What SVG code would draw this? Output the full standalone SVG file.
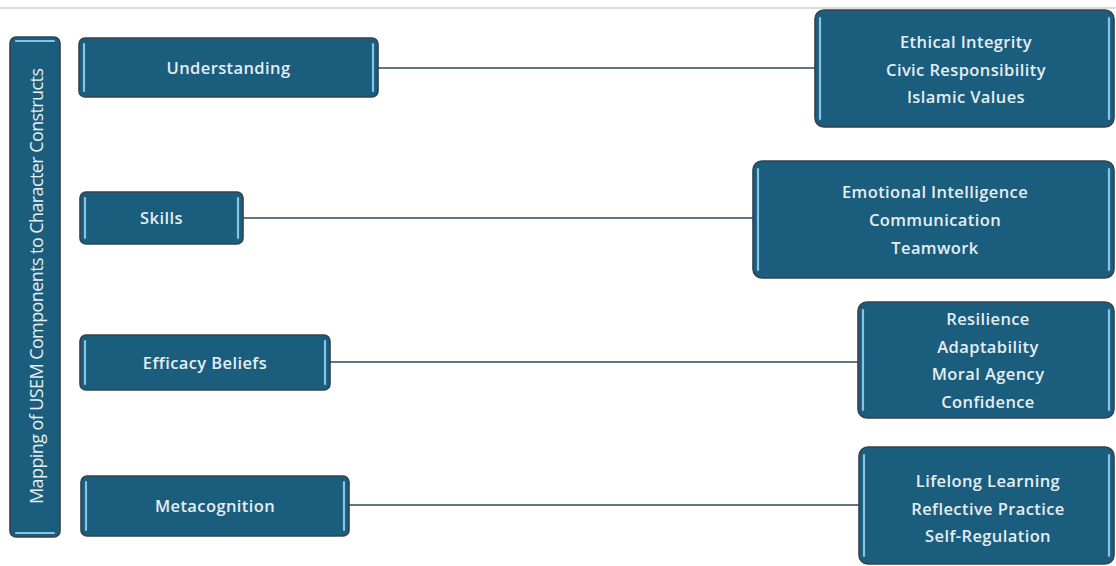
<svg xmlns="http://www.w3.org/2000/svg" width="1116" height="566" viewBox="0 0 1116 566">
<defs>
<style>
.box{fill:#1b5d7d;stroke:#34434d;stroke-width:1.6}
.hl{stroke:#86c3e6;stroke-width:2.2;stroke-linecap:round;fill:none}
.t{font-family:"Open Sans","Liberation Sans",sans-serif;font-size:16.5px;font-weight:600;fill:#e4eef3;text-anchor:middle;dominant-baseline:central;letter-spacing:0.4px}
.c{stroke:#2c4858;stroke-width:1.5;fill:none}
</style>
</defs>
<rect width="1116" height="566" fill="#ffffff"/>
<line x1="0" y1="8" x2="1116" y2="8" stroke="#cfcfcf" stroke-width="1.5"/>
<g id="connectors">
<line class="c" x1="378" y1="68" x2="815" y2="68"/>
<line class="c" x1="243" y1="218" x2="753" y2="218"/>
<line class="c" x1="330" y1="362" x2="858" y2="362"/>
<line class="c" x1="349" y1="505" x2="859" y2="505"/>
</g>
<g id="title">
<rect class="box" x="10" y="37" width="50" height="500" rx="6"/>
<line class="hl" x1="16" y1="41" x2="54" y2="41"/>
<line class="hl" x1="16" y1="533" x2="54" y2="533"/>
<text class="t" transform="translate(36,286) rotate(-90)" textLength="436" lengthAdjust="spacing" style="letter-spacing:0;font-size:18px;font-weight:normal">Mapping of USEM Components to Character Constructs</text>
</g>
<g id="n-understanding">
<rect class="box" x="79" y="38" width="299" height="59" rx="6"/>
<line class="hl" x1="84" y1="44" x2="84" y2="91"/>
<line class="hl" x1="373" y1="44" x2="373" y2="91"/>
<text class="t" x="228.5" y="67">Understanding</text>
</g>
<g id="n-skills">
<rect class="box" x="80" y="192" width="163" height="52" rx="6"/>
<line class="hl" x1="85" y1="198" x2="85" y2="238"/>
<line class="hl" x1="238" y1="198" x2="238" y2="238"/>
<text class="t" x="161.5" y="217">Skills</text>
</g>
<g id="n-efficacy">
<rect class="box" x="80" y="335" width="250" height="55" rx="6"/>
<line class="hl" x1="85" y1="341" x2="85" y2="384"/>
<line class="hl" x1="325" y1="341" x2="325" y2="384"/>
<text class="t" x="205" y="362">Efficacy Beliefs</text>
</g>
<g id="n-metacognition">
<rect class="box" x="81" y="476" width="268" height="60" rx="6"/>
<line class="hl" x1="86" y1="482" x2="86" y2="530"/>
<line class="hl" x1="344" y1="482" x2="344" y2="530"/>
<text class="t" x="215" y="505">Metacognition</text>
</g>
<g id="r-understanding">
<rect class="box" x="815" y="10" width="299" height="117" rx="9"/>
<line class="hl" x1="820" y1="18" x2="820" y2="119"/>
<line class="hl" x1="1109" y1="18" x2="1109" y2="119"/>
<text class="t" x="966" y="41">Ethical Integrity</text>
<text class="t" x="966" y="69">Civic Responsibility</text>
<text class="t" x="966" y="96">Islamic Values</text>
</g>
<g id="r-skills">
<rect class="box" x="753" y="161" width="361" height="117" rx="9"/>
<line class="hl" x1="758" y1="169" x2="758" y2="270"/>
<line class="hl" x1="1109" y1="169" x2="1109" y2="270"/>
<text class="t" x="935" y="191">Emotional Intelligence</text>
<text class="t" x="935" y="219">Communication</text>
<text class="t" x="935" y="247">Teamwork</text>
</g>
<g id="r-efficacy">
<rect class="box" x="858" y="302" width="256" height="116" rx="9"/>
<line class="hl" x1="863" y1="310" x2="863" y2="410"/>
<line class="hl" x1="1109" y1="310" x2="1109" y2="410"/>
<text class="t" x="988" y="318">Resilience</text>
<text class="t" x="988" y="346">Adaptability</text>
<text class="t" x="988" y="373">Moral Agency</text>
<text class="t" x="988" y="401">Confidence</text>
</g>
<g id="r-metacognition">
<rect class="box" x="859" y="447" width="255" height="117" rx="9"/>
<line class="hl" x1="864" y1="455" x2="864" y2="556"/>
<line class="hl" x1="1109" y1="455" x2="1109" y2="556"/>
<text class="t" x="988" y="480">Lifelong Learning</text>
<text class="t" x="988" y="508">Reflective Practice</text>
<text class="t" x="988" y="535">Self-Regulation</text>
</g>
</svg>
